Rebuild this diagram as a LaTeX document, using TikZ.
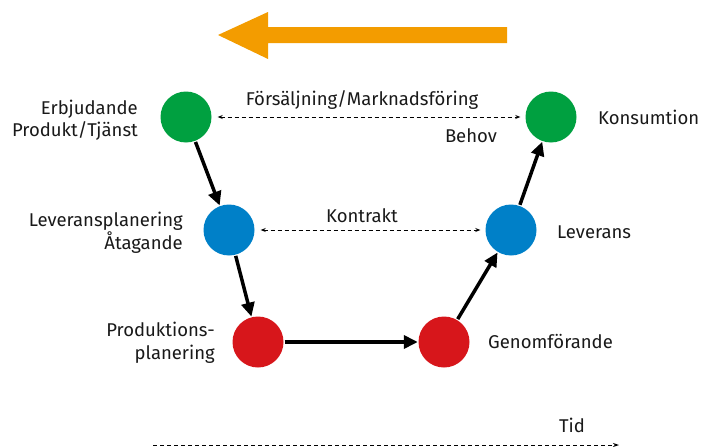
\documentclass[tikz,border=0pt]{standalone}
\usepackage{fontspec}
\setmainfont{Fira Sans}
\usetikzlibrary{arrows.meta}
\definecolor{cgreen}{HTML}{00A040}
\definecolor{cblue}{HTML}{0080C8}
\definecolor{cred}{HTML}{D7161B}
\definecolor{corange}{HTML}{F39C00}
\begin{document}
\begin{tikzpicture}[x=1pt,y=-1pt,
  dot/.style={circle,minimum size=51pt,inner sep=0pt},
  lbl/.style={font=\fontsize{18.5}{22.5}\selectfont,inner sep=0pt,text=black!90},
  flow/.style={line width=3.5pt,-{Triangle[length=14pt,width=13pt]},shorten >=0.5pt,shorten <=1pt},
  rel/.style={line width=1pt,dash pattern=on 4pt off 3pt,{Stealth[length=5pt,width=4pt]}-{Stealth[length=5pt,width=4pt]},shorten >=5pt,shorten <=6pt}]
\useasboundingbox (0,0) rectangle (705,447);
% orange arrow
\fill[corange] (507,27) -- (268,27) -- (268,12) -- (218,35) -- (268,59) -- (268,43) -- (507,43) -- cycle;
% circles
\node[dot,fill=cgreen] (g1) at (186,117) {};
\node[dot,fill=cgreen] (g2) at (551,117) {};
\node[dot,fill=cblue] (b1) at (229,230) {};
\node[dot,fill=cblue] (b2) at (511,230) {};
\node[dot,fill=cred] (r1) at (258,342) {};
\node[dot,fill=cred] (r2) at (444,342) {};
% flow arrows
\draw[flow] (g1) -- (b1);
\draw[flow] (b1) -- (r1);
\draw[flow] (r1) -- (r2);
\draw[flow] (r2) -- (b2);
\draw[flow] (b2) -- (g2);
% dashed relations
\draw[rel] (g1) -- (g2);
\draw[rel] (b1) -- (b2);
\coordinate (t0) at (153,445);
\coordinate (t1) at (619,445);
\draw[line width=1pt,dash pattern=on 4pt off 3pt,-{Stealth[length=6pt,width=4pt]}] (t0) -- (t1);
% labels
\node[lbl,anchor=east,align=right] (l1) at (138,120) {Erbjudande\\Produkt/Tjänst};
\node[lbl] (l2) at (362,100) {Försäljning/Marknadsföring};
\node[lbl] (l3) at (471,136) {Behov};
\node[lbl,anchor=west] (l4) at (598,117) {Konsumtion};
\node[lbl,anchor=east,align=right] (l5) at (183,233) {Leveransplanering\\Åtagande};
\node[lbl] (l6) at (362,216) {Kontrakt};
\node[lbl,anchor=west] (l7) at (557,232) {Leverans};
\node[lbl,anchor=east,align=right] (l8) at (215,343) {Produktions-\\planering};
\node[lbl,anchor=west] (l9) at (488,342) {Genomförande};
\node[lbl] (l10) at (572,425) {Tid};
\end{tikzpicture}
\end{document}
